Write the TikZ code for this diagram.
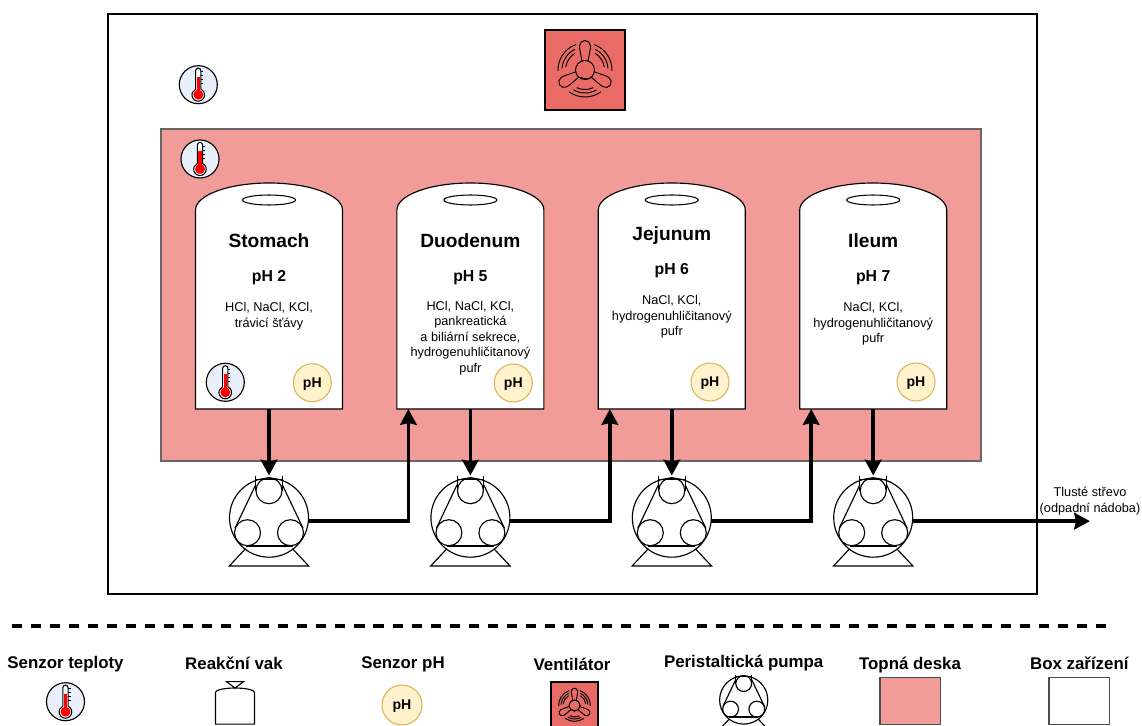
\documentclass[tikz,border=0pt]{standalone}
\usepackage{fontspec}
\setmainfont{Liberation Sans}
\usetikzlibrary{arrows.meta}

\definecolor{plateRed}{HTML}{F19C99}
\definecolor{fanRed}{HTML}{EA6B66}
\definecolor{thermoBlue}{HTML}{EAF0FB}
\definecolor{phFill}{HTML}{FFF2CC}
\definecolor{phEdge}{HTML}{D6B656}

\tikzset{
    every pic/.style={yscale=-1},
    flow/.style={line width=2pt, -{Stealth[length=9pt, width=9.4pt, inset=1pt]}},
    tankname/.style={anchor=base, font=\fontsize{10.9}{13}\selectfont\bfseries},
    tankph/.style={anchor=base, font=\fontsize{9}{11}\selectfont\bfseries},
    tanktext/.style={font=\fontsize{7.25}{8.9}\selectfont, align=center},
    legendname/.style={font=\fontsize{9.6}{11}\selectfont\bfseries},
    phsensor/.style={circle, draw=phEdge, fill=phFill, line width=0.6pt, minimum size=0.76cm, inner sep=0pt, text depth=0pt, font=\fontsize{8}{10}\selectfont\bfseries},
    thermo/.pic={
        \draw[fill=thermoBlue, line width=0.65pt] (0,0) circle (19);
        \draw[fill=white, line width=0.6pt] (-2.6,4.5) -- (-2.6,-14) arc[start angle=180, end angle=360, radius=2.6] -- (2.6,4.5) arc[start angle=-65, end angle=245, radius=6.3] -- cycle;
        \fill[red] (-1.7,-8) rectangle (1.7,6);
        \fill[red] (0,10) circle (5);
        \foreach \y in {-13,-9,-5,-1}
            \draw[line width=0.4pt] (2.6,\y) -- (5,\y);
    },
    fan/.pic={
        \draw[fill=fanRed, line width=0.7pt] (-40,-40) rectangle (40,40);
        \foreach \a in {0,120,240}
            \draw[rotate=\a, line width=0.55pt] (-3,-8.5) .. controls (-4,-15) and (-5.5,-20) .. (-5.5,-24) arc[start angle=180, end angle=360, radius=5.5] .. controls (5.5,-20) and (4,-15) .. (3,-8.5);
        \draw[line width=0.55pt] (0,0) circle (9.5);
        \draw[line width=0.55pt] (-4,7.5) .. controls (-1,9) and (2,9.5) .. (5,8.5);
        \foreach \c in {-146,-34,90}
            \foreach \r/\w in {27/36,23/30,19.5/25}
                \draw[line width=0.55pt] (\c-\w:\r) arc[start angle=\c-\w, end angle=\c+\w, radius=\r];
    },
    tankshape/.pic={
        \draw[fill=white, line width=0.65pt] (-73.5,226) -- (-73.5,27) .. controls (-73.5,12) and (-40,0) .. (0,0) .. controls (40,0) and (73.5,12) .. (73.5,27) -- (73.5,226) -- cycle;
    },
    tank/.pic={
        \pic {tankshape};
        \node[minimum width=2.94cm, minimum height=4.52cm, inner sep=0pt, outer sep=0pt] (-body) at (0,113) {};
        \draw[line width=0.6pt] (0,17) ellipse (26.5 and 5);
    },
    pump/.pic={
        \node[circle, draw, line width=0.65pt, minimum size=1.58cm, inner sep=0pt, outer sep=0pt] (-body) at (0,0) {};
        \draw[line width=0.65pt] (0,-27) circle (13);
        \draw[line width=0.65pt] (-21.5,15) circle (13);
        \draw[line width=0.65pt] (21.5,15) circle (13);
        \draw[line width=0.65pt] (-13.3,-41.5) -- (-13.3,-27) (13.3,-41.5) -- (13.3,-27);
        \draw[line width=0.65pt] (-13.3,-38.5) -- (13.3,-38.5);
        \draw[line width=0.65pt] (-13.3,-33) -- (-34,10.5) (13.3,-33) -- (34,10.5);
        \draw[line width=1pt] (-23.5,28.3) -- (23.5,28.3);
        \draw[line width=0.65pt] (-23.5,31) -- (-39.7,48.3) -- (39.7,48.3) -- (23.5,31);
    },
}

\begin{document}
\begin{tikzpicture}[x=0.02cm, y=0.02cm, yscale=-1]
    \def\xa{269};
    \def\dx{201.4};
    \def\ytank{183};
    \def\ypump{517.7};

    \useasboundingbox (0,0) rectangle (1142,726);
    \clip (0,0) rectangle (1142,726);

% device box

    \draw[line width=0.6pt] (108,14) rectangle (1037,594);
    \draw[fill=plateRed, draw=black!60, line width=0.65pt] (161,129) rectangle (981,461);
    \pic at (585,70) {fan};
    \pic at (198.3,84.7) {thermo};
    \pic at (200,159) {thermo};

% tanks

    \pic (tanka) at (\xa + 0 * \dx, \ytank) {tank};
    \pic (tankb) at (\xa + 1 * \dx, \ytank) {tank};
    \pic (tankc) at (\xa + 2 * \dx, \ytank) {tank};
    \pic (tankd) at (\xa + 3 * \dx, \ytank) {tank};

    \node[tankname] (namea) at (\xa + 0 * \dx, 247.5) {Stomach};
    \node[tankname] (nameb) at (\xa + 1 * \dx, 247.5) {Duodenum};
    \node[tankname] (namec) at (\xa + 2 * \dx, 240.5) {Jejunum};
    \node[tankname] (named) at (\xa + 3 * \dx, 247.5) {Ileum};

    \node[tankph] (pha) at (\xa + 0 * \dx, 281.5) {pH 2};
    \node[tankph] (phb) at (\xa + 1 * \dx, 281.5) {pH 5};
    \node[tankph] (phc) at (\xa + 2 * \dx, 274.5) {pH 6};
    \node[tankph] (phd) at (\xa + 3 * \dx, 281.5) {pH 7};

    \node[tanktext] (texta) at (\xa + 0 * \dx, 316) {HCl, NaCl, KCl,\\trávicí šťávy};
    \node[tanktext] (textb) at (\xa + 1 * \dx, 338) {HCl, NaCl, KCl,\\pankreatická\\a biliární sekrece,\\hydrogenuhličitanový\\pufr};
    \node[tanktext] (textc) at (\xa + 2 * \dx, 317) {NaCl, KCl,\\hydrogenuhličitanový\\pufr};
    \node[tanktext] (textd) at (\xa + 3 * \dx, 324) {NaCl, KCl,\\hydrogenuhličitanový\\pufr};

    \pic at (225.3,382.3) {thermo};
    \node[phsensor] (sensora) at (312.3,382.7) {pH};
    \node[phsensor] (sensorb) at (513.3,383) {pH};
    \node[phsensor] (sensorc) at (710,382) {pH};
    \node[phsensor] (sensord) at (916,382) {pH};

% pumps

    \pic (pumpa) at (\xa + 0 * \dx, \ypump) {pump};
    \pic (pumpb) at (\xa + 1 * \dx, \ypump) {pump};
    \pic (pumpc) at (\xa + 2 * \dx, \ypump) {pump};
    \pic (pumpd) at (\xa + 3 * \dx, \ypump) {pump};

    \coordinate (waste) at ([xshift=3.55cm]pumpd-body.-5.8);
    \node[tanktext] (wastetext) at (1090,501) {Tlusté střevo\\(odpadní nádoba)};

    \draw[flow, shorten >=1.5pt] (tanka-body.south) -- (pumpa-body.north);
    \draw[flow, shorten >=1.5pt] (tankb-body.south) -- (pumpb-body.north);
    \draw[flow, shorten >=1.5pt] (tankc-body.south) -- (pumpc-body.north);
    \draw[flow, shorten >=1.5pt] (tankd-body.south) -- (pumpd-body.north);
    \draw[flow] (pumpa-body.-5.8) -| ([xshift=0.23cm]tankb-body.south west);
    \draw[flow] (pumpb-body.-5.8) -| ([xshift=0.23cm]tankc-body.south west);
    \draw[flow] (pumpc-body.-5.8) -| ([xshift=0.23cm]tankd-body.south west);
    \draw[flow] (pumpd-body.-5.8) -- (waste);

% legend

    \coordinate (dasha) at (12.3,626);
    \coordinate (dashb) at (1106,626);
    \draw[line width=1.8pt, dash pattern=on 5.7pt off 5.12pt] (dasha) -- (dashb);

    \node[legendname] (legtemp) at (65.5,664) {Senzor teploty};
    \node[legendname] (legbag) at (234,663) {Reakční vak};
    \node[legendname] (legph) at (403,664) {Senzor pH};
    \node[legendname] (legfan) at (572,664) {Ventilátor};
    \node[legendname] (legpump) at (743.7,663) {Peristaltická pumpa};
    \node[legendname] (legplate) at (910,664.7) {Topná deska};
    \node[legendname] (legbox) at (1079.3,663) {Box zařízení};

    \pic at (65.5,701.7) {thermo};
    \pic[xscale=0.265, yscale=0.16] at (235,688) {tankshape};
    \draw[line width=0.6pt] (226.5,681.7) -- (243.5,681.7) -- (235,688) -- cycle;
    \node[phsensor, minimum size=0.8cm] (legsensor) at (402,705) {pH};
    \pic[scale=0.5875] at (574.5,705.5) {fan};
    \pic[scale=0.61, yscale=-1, transform shape] at (743.7,700) {pump};
    \draw[fill=plateRed, draw=black!70, line width=0.65pt] (880,677.7) rectangle (940.7,724.3);
    \draw[draw=black!70, line width=0.65pt] (1049,677.7) rectangle (1109.3,724.3);

\end{tikzpicture}
\end{document}
